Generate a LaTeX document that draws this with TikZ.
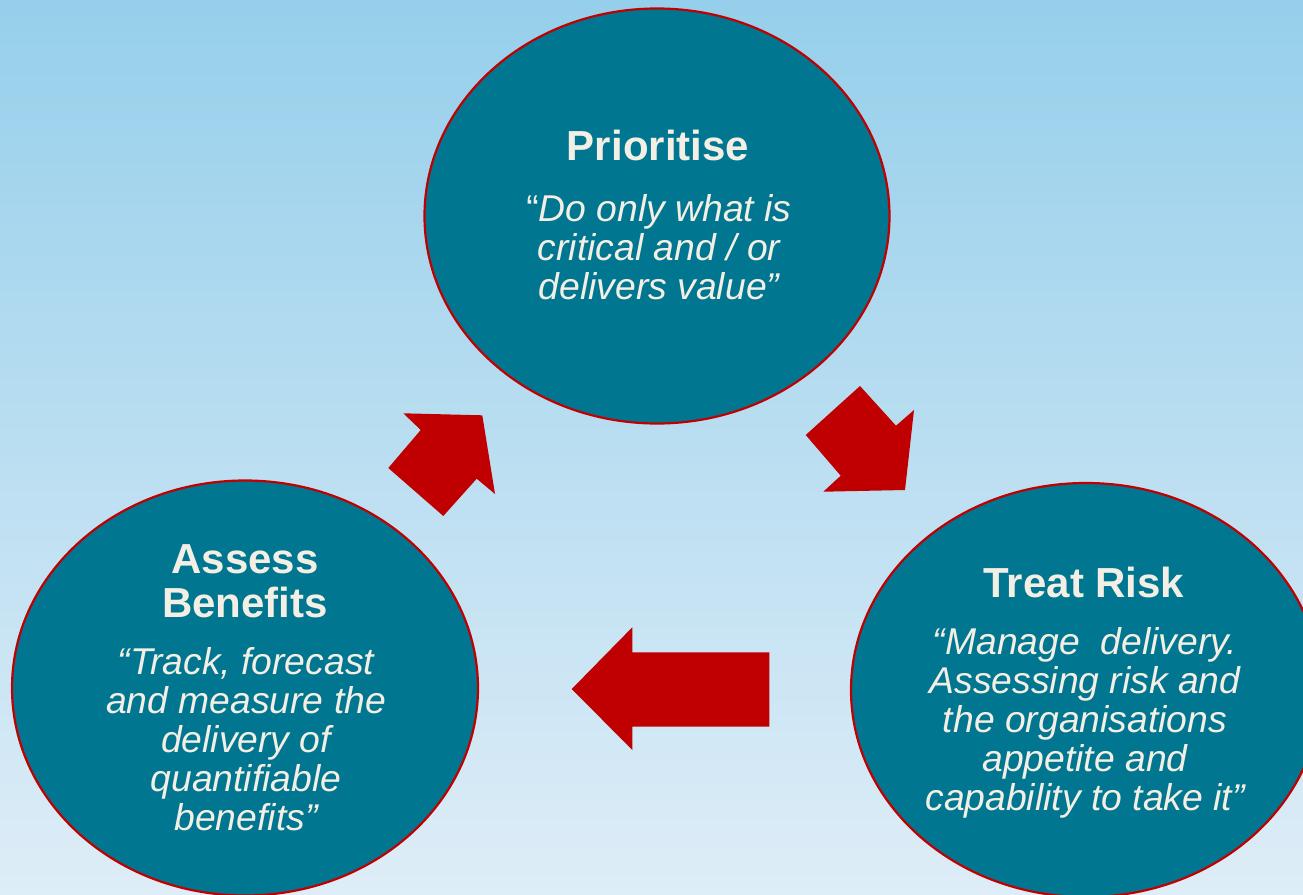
\documentclass[tikz,border=0pt]{standalone}
\usepackage{fontspec}
\setmainfont{Liberation Sans}
\usetikzlibrary{shapes.geometric}
\definecolor{bgtop}{RGB}{150,207,235}
\definecolor{bgbot}{RGB}{222,237,247}
\definecolor{circfill}{RGB}{0,118,144}
\definecolor{arrowred}{RGB}{192,0,0}
\definecolor{cream}{RGB}{243,239,229}
\newcommand\lines[1]{\begin{tabular}[t]{@{}c@{}}#1\end{tabular}}
\begin{document}
\begin{tikzpicture}[x=1pt,y=-1pt,
  stage/.style={ellipse, draw=arrowred, line width=2.2pt, fill=circfill, inner sep=0pt},
  titletext/.style={anchor=base, inner sep=0pt, text=cream, font=\bfseries\fontsize{42}{44}\selectfont},
  bodytext/.style={anchor=base, inner sep=0pt, text=cream, font=\itshape\fontsize{37.3}{39.1}\selectfont},
  blockarrow/.style={fill=arrowred, draw=none}]
\useasboundingbox (0,0) rectangle (1303,894);
\clip (0,0) rectangle (1303,894);
\shade[top color=bgtop, bottom color=bgbot] (0,0) rectangle (1303,894);

% stages
\node[stage, minimum width=465pt, minimum height=415pt] (prio) at (657,216) {};
\node[stage, minimum width=466pt, minimum height=415pt] (assess) at (245,688) {};
\node[stage, minimum width=470pt, minimum height=414pt] (treat) at (1086,690) {};

% texts
\node[titletext] (priot) at (658,160) {Prioritise};
\node[bodytext] (priob) at (659,221) {\lines{{\upshape “}Do only what is\\critical and / or\\delivers value”}};

\node[titletext] (treatt) at (1084,597) {Treat Risk};
\node[bodytext] (treatb) at (1085,654) {\lines{“Manage\ \ delivery.\\Assessing risk and\\the organisations\\appetite and\\capability to take it”}};

\node[titletext] (assesst) at (245,573) {\lines{Assess\\Benefits}};
\node[bodytext] (assessb) at (246,674) {\lines{“Track, forecast\\and measure the\\delivery of\\quantifiable\\benefits”}};

% block arrows
\fill[blockarrow] (403.3,413.3) -- (482.3,415.3) -- (495,494) -- (476.7,478.7)
  -- (443.3,516) -- (388.3,468) -- (420.7,430) -- cycle;
\fill[blockarrow] (860,386) -- (896,425.7) -- (914,410) -- (905,490)
  -- (823.3,491.7) -- (840.7,475.7) -- (805.7,435) -- cycle;
\fill[blockarrow] (571.7,689) -- (632.3,627.3) -- (632.3,652.3) -- (769.3,652.3)
  -- (769.3,726.7) -- (632.3,726.7) -- (632.3,750) -- cycle;
\end{tikzpicture}
\end{document}
